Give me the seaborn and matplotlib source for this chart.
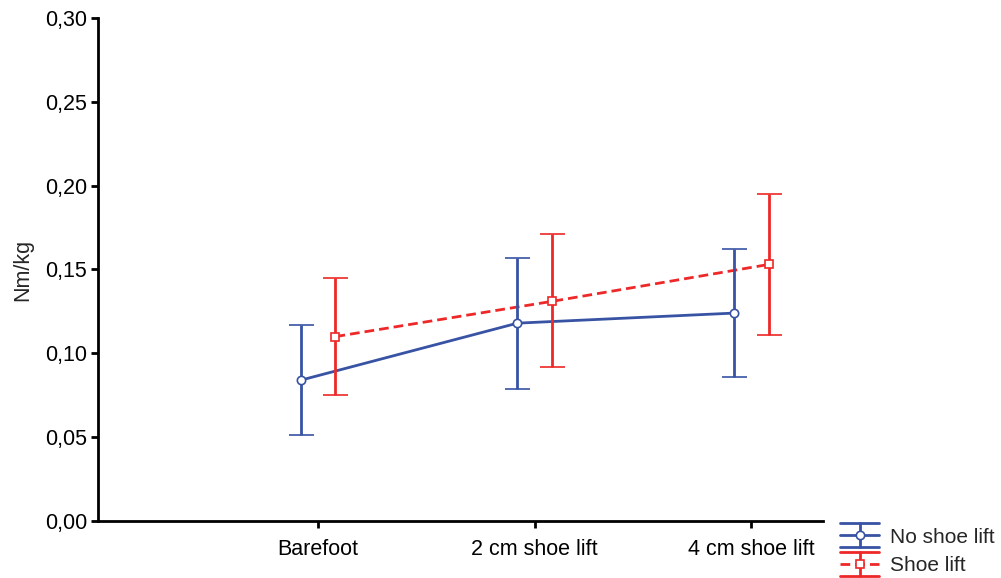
import numpy as np
import pandas as pd
import matplotlib
matplotlib.use("Agg")
import matplotlib.pyplot as plt
import matplotlib.lines as mlines
import seaborn as sns
from matplotlib.ticker import FuncFormatter
from matplotlib.legend_handler import HandlerBase

# Data
conditions = ["Barefoot", "2 cm shoe lift", "4 cm shoe lift"]
series_names = ["No shoe lift", "Shoe lift"]

no_lift_mean = [0.084, 0.118, 0.124]
no_lift_upper = [0.117, 0.157, 0.162]
no_lift_lower = [0.051, 0.079, 0.086]

lift_mean = [0.110, 0.131, 0.153]
lift_upper = [0.145, 0.171, 0.195]
lift_lower = [0.075, 0.092, 0.111]

sns.set_style("white")
plt.rcParams["font.family"] = ["Liberation Sans", "DejaVu Sans"]

blue = "#3853a4"
red = "#ee2828"
dash = (3.5, 1.8)


class ErrHandler(HandlerBase):
    # legend key: full width caps, middle line with marker, vertical bar
    def __init__(self, color, ls, marker):
        super().__init__()
        self.color, self.ls, self.marker = color, ls, marker

    def create_artists(self, legend, orig, xd, yd, w, h, fontsize, trans):
        x0, x1 = -xd, w - xd
        xm = (x0 + x1) / 2
        ym = h / 2 - yd
        e = 8.6
        arts = []
        for yy in (ym - e, ym + e):
            arts.append(mlines.Line2D([x0, x1], [yy, yy], color=self.color, lw=2))
        mid = mlines.Line2D([x0, x1], [ym, ym], color=self.color, lw=2)
        if self.ls == "--":
            mid.set_dashes(dash)
        arts.append(mid)
        arts.append(mlines.Line2D([xm, xm], [ym - e, ym + e], color=self.color, lw=2))
        arts.append(mlines.Line2D([xm], [ym], marker=self.marker, markersize=6,
                                  markerfacecolor="white", markeredgecolor=self.color,
                                  markeredgewidth=1.2, linestyle="none"))
        for a in arts:
            a.set_transform(trans)
        return arts


df = pd.DataFrame({
    "pos": list(range(len(conditions))) * 2,
    "value": no_lift_mean + lift_mean,
    "group": [series_names[0]] * 3 + [series_names[1]] * 3,
})
offset = {series_names[0]: -0.08, series_names[1]: 0.08}
df["x"] = df["pos"] + df["group"].map(offset)

fig = plt.figure(figsize=(10.01, 5.78), dpi=100)
ax = fig.add_axes([0.098, 0.0986, 0.724, 0.8703])

sns.lineplot(data=df, x="x", y="value", hue="group",
             palette=[blue, red], style="group", dashes=[(None, None), dash],
             lw=2, legend=False, ax=ax, zorder=2)

handles = []
hmap = {}
for name, mean, lo, hi, col, mk, ls in [
    (series_names[0], no_lift_mean, no_lift_lower, no_lift_upper, blue, "o", "-"),
    (series_names[1], lift_mean, lift_lower, lift_upper, red, "s", "--"),
]:
    sub = df[df["group"] == name]
    yerr = [np.array(mean) - np.array(lo), np.array(hi) - np.array(mean)]
    h = ax.errorbar(sub["x"], mean, yerr=yerr, fmt=mk, linestyle="none",
                    color=col, ecolor=col, elinewidth=2, capsize=9,
                    capthick=2, markersize=6, markerfacecolor="white",
                    markeredgecolor=col, markeredgewidth=1.2, label=name,
                    zorder=3)
    handles.append(h)
    hmap[h] = ErrHandler(col, ls, mk)

ax.set_xlim(-1.016, 2.33)
ax.set_ylim(0, 0.30)
ax.set_xticks(range(len(conditions)))
ax.set_xticklabels(conditions)
ax.set_yticks(np.arange(0, 0.31, 0.05))
ax.yaxis.set_major_formatter(FuncFormatter(lambda v, p: f"{v:.2f}".replace(".", ",")))
ax.set_xlabel("")
ax.set_ylabel("Nm/kg", fontsize=15.5)
ax.yaxis.set_label_coords(-0.09, 0.5)

for s in ["top", "right"]:
    ax.spines[s].set_visible(False)
for s in ["left", "bottom"]:
    ax.spines[s].set_linewidth(2)
    ax.spines[s].set_color("black")
ax.tick_params(axis="both", which="major", direction="out", length=5, width=2,
               labelsize=15.5, bottom=True, left=True, colors="black")
ax.tick_params(axis="y", pad=3)
ax.tick_params(axis="x", pad=8)

fig.legend(handles, series_names, handler_map=hmap, loc="upper left",
           bbox_to_anchor=(0.839, 0.087), frameon=False, fontsize=15,
           handlelength=1.9, handletextpad=0.5, borderpad=0, borderaxespad=0,
           labelspacing=0.45)

fig.savefig("out.png", dpi=100)
